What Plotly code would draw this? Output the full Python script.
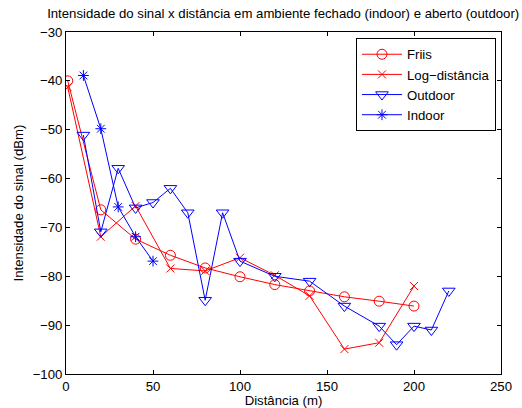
import plotly.graph_objects as go

friis_x = [1, 20, 40, 60, 80, 100, 120, 140, 160, 180, 200]
friis_y = [-40.0, -66.4, -72.4, -75.7, -78.3, -80.1, -81.7, -83.0, -84.2, -85.1, -86.1]

log_x = [1, 20, 40, 60, 80, 100, 120, 140, 160, 180, 200]
log_y = [-41.3, -71.9, -65.6, -78.4, -78.9, -76.2, -79.8, -84.0, -94.9, -93.6, -82.0]

out_x = [10, 20, 30, 40, 50, 60, 70, 80, 90, 100, 120, 140, 160, 180, 190, 200, 210, 220]
out_y = [-51.1, -70.9, -57.9, -66.0, -64.9, -62.0, -67.0, -84.9, -67.0, -76.9, -80.0,
         -81.0, -86.1, -90.2, -94.0, -90.2, -91.0, -83.0]

in_x = [10, 20, 30, 40, 50]
in_y = [-38.9, -49.8, -65.8, -71.9, -76.9]

title = "Intensidade do sinal x distância em ambiente fechado (indoor) e aberto (outdoor)"
xlabel = "Distância (m)"
ylabel = "Intensidade do sinal (dBm)"

RED = "#ff0000"
BLUE = "#0000ff"
FONT = "Liberation Sans, Arial, Helvetica, sans-serif"
FS = 13.2

fig = go.Figure()
fig.add_trace(go.Scatter(x=friis_x, y=friis_y, mode="lines+markers", name="Friis",
                         line=dict(color=RED, width=1),
                         marker=dict(symbol="circle-open", size=10, color=RED,
                                     line=dict(color=RED, width=1))))
fig.add_trace(go.Scatter(x=log_x, y=log_y, mode="lines+markers", name="Log−distância",
                         line=dict(color=RED, width=1),
                         marker=dict(symbol="x-thin-open", size=8, color=RED,
                                     line=dict(color=RED, width=1))))
fig.add_trace(go.Scatter(x=out_x, y=out_y, mode="lines+markers", name="Outdoor",
                         line=dict(color=BLUE, width=1),
                         marker=dict(symbol="triangle-down-open", size=11, color=BLUE,
                                     line=dict(color=BLUE, width=1))))
fig.add_trace(go.Scatter(x=in_x, y=in_y, mode="lines+markers", name="Indoor",
                         line=dict(color=BLUE, width=1),
                         marker=dict(symbol="asterisk-open", size=9, color=BLUE,
                                     line=dict(color=BLUE, width=1))))

axis_common = dict(showgrid=False, zeroline=False, showline=True, mirror="ticks",
                   linecolor="black", linewidth=1, ticks="inside", ticklen=4,
                   tickcolor="black", automargin=False,
                   tickfont=dict(size=FS, color="black", family=FONT))

fig.update_layout(
    width=522, height=408,
    margin=dict(l=66, r=21, t=32, b=34, autoexpand=False),
    paper_bgcolor="white", plot_bgcolor="white",
    font=dict(family=FONT, size=FS, color="black"),
    title=dict(text=title, x=0.5425, xanchor="center", y=0.968, yanchor="middle",
               font=dict(size=FS, color="black", family=FONT)),
    xaxis=dict(range=[0, 250], dtick=50, tick0=0,
               title=dict(text=xlabel, standoff=2, font=dict(size=FS)), **axis_common),
    yaxis=dict(range=[-100, -30], dtick=10, tick0=-100,
               title=dict(text=ylabel, standoff=6, font=dict(size=FS)), **axis_common),
    legend=dict(x=0.9885, y=0.982, xanchor="right", yanchor="top",
                bgcolor="white", bordercolor="black", borderwidth=1,
                font=dict(size=FS, family=FONT), tracegroupgap=0,
                itemwidth=40),
    showlegend=True,
)

fig.write_html("out.html",
               config={"displayModeBar": False},
               post_script="document.body.style.margin='0';document.body.style.padding='0';document.body.style.overflow='hidden';")
